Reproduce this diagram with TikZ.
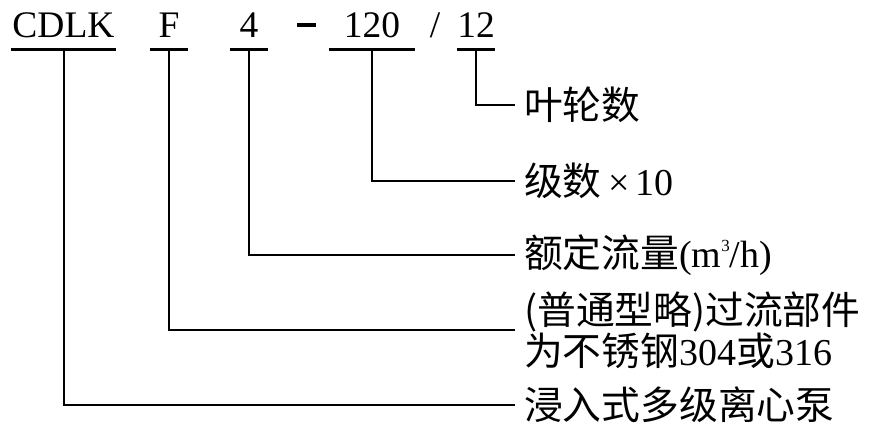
\documentclass[tikz,border=0pt]{standalone}
\usepackage{fontspec}
\setmainfont{Liberation Serif}
\newfontfamily\cjk[Scale=1.02]{Noto Sans CJK SC}
\usepackage{tikz}
\usetikzlibrary{calc}

\begin{document}
\begin{tikzpicture}[x=1pt, y=-1pt,
                code/.style={anchor=base, inner xsep=0pt, inner ysep=12.5pt, text depth=0pt, font=\fontsize{37.5}{40}\selectfont},
                uline/.style={line width=3pt},
                conn/.style={line width=2pt},
                lbl/.style={anchor=west, inner xsep=9pt, inner ysep=0pt, align=left, font=\fontsize{38}{40}\selectfont}]
                \useasboundingbox (0, 0) rectangle (877, 431);
                \node[code, minimum width=105pt] (CDLK) at (63.5, 37) {CDLK};
                \node[code, minimum width=38pt] (MAT) at (169, 37) {F};
                \node[code, minimum width=38pt] (FLOW) at (249, 37) {4};
                \node[code] (DASH) at (306.5, 37) {\rule[10pt]{19pt}{4pt}};
                \node[code, minimum width=86pt] (STAGE) at (372, 37) {120};
                \node[code] (SLASH) at (435, 37) {/};
                \node[code, minimum width=38pt] (IMP) at (476, 37) {12};
                \foreach \n in {CDLK, MAT, FLOW, STAGE, IMP}
                    \draw[uline] (\n.south west) -- (\n.south east);
                \node[lbl] (IMPTXT) at (515, 105) {{\cjk 叶轮数}};
                \node[lbl] (STAGETXT) at (515, 181) {{\cjk 级数}\,×\,10};
                \node[lbl] (FLOWTXT) at (515, 255) {{\cjk 额定流量}(m\raisebox{16pt}{\fontsize{17}{17}\selectfont 3}/h)};
                \node[lbl] (MATTXT) at (515, 330) {{\cjk (普通型略)过流部件}\\{\cjk 为不锈钢}304{\cjk 或}316};
                \node[lbl] (PUMPTXT) at (515, 405) {{\cjk 浸入式多级离心泵}};
                \draw[conn] (IMP.south) |- (IMPTXT.west);
                \draw[conn] (STAGE.south) |- (STAGETXT.west);
                \draw[conn] (FLOW.south) |- (FLOWTXT.west);
                \draw[conn] (MAT.south) |- (MATTXT.west);
                \draw[conn] (CDLK.south) |- (PUMPTXT.west);
            \end{tikzpicture}
\end{document}
